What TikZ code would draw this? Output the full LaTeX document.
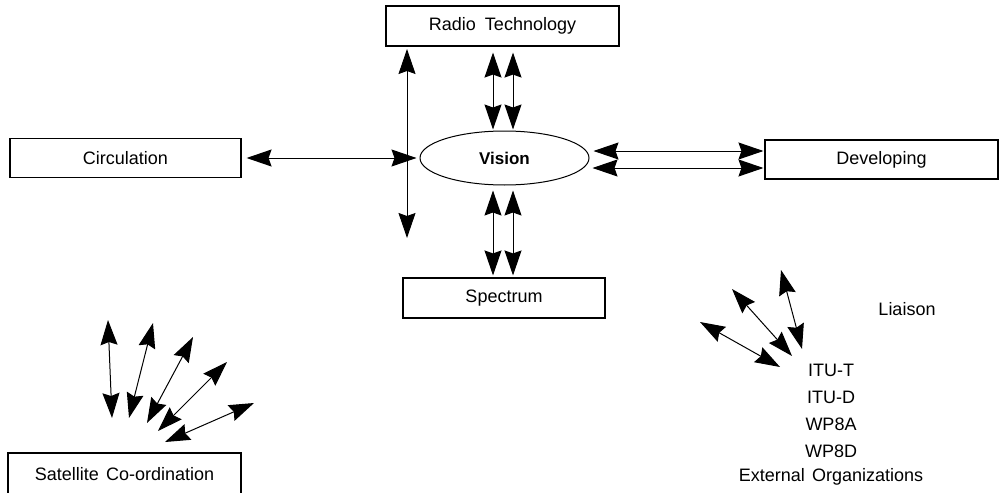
\documentclass[tikz,border=0pt]{standalone}
\usepackage{fontspec}
\setmainfont{Liberation Sans}
\usetikzlibrary{arrows.meta,shapes.geometric}
\tikzset{
  boxnode/.style={draw,line width=1.1pt,rectangle,inner sep=0pt,font=\fontsize{18}{20}\selectfont},
  labelnode/.style={inner sep=0pt,font=\fontsize{18}{20}\selectfont},
  tiphead/.tip={Stealth[length=25pt,width=17pt,inset=3pt]},
  dblarrow/.style={line width=1pt,tiphead-tiphead},
}
\begin{document}
\begin{tikzpicture}[x=1pt,y=-1pt]
\useasboundingbox (0,0) rectangle (1000,492);
% boxes
\node[boxnode,minimum width=233pt,minimum height=40pt] (radio) at (502.5,26) {Radio\hspace{0.5em}Technology};
\node[boxnode,minimum width=231pt,minimum height=39pt] (circ) at (125.5,158) {Circulation};
\node[boxnode,minimum width=233pt,minimum height=39pt] (dev) at (881.5,159.5) {Developing};
\node[boxnode,minimum width=202pt,minimum height=40pt] (spec) at (504,298) {Spectrum};
\node[boxnode,minimum width=233pt,minimum height=42pt] (sat) at (124.5,474) {Satellite\hspace{0.4em}Co-ordination};
\node[draw,line width=1pt,ellipse,minimum width=169pt,minimum height=54pt,inner sep=0pt,font=\fontsize{17}{18}\selectfont\bfseries] (vision) at (504.5,158) {Vision};
% vertical line left of vision
\coordinate (vt) at (407,49);
\coordinate (vb) at (407,238);
\draw[dblarrow] (vt) -- (vb);
% circulation
\draw[dblarrow] ([xshift=5pt]circ.east) -- ([xshift=-3pt]vision.west);
% radio <-> vision
\draw[dblarrow] ([xshift=-9.5pt,yshift=-6pt]radio.south) -- ([xshift=-11.5pt,yshift=1pt]vision.north);
\draw[dblarrow] ([xshift=10.5pt,yshift=-6pt]radio.south) -- ([xshift=8.5pt,yshift=1pt]vision.north);
% vision <-> spectrum
\draw[dblarrow] ([xshift=-11.5pt,yshift=-5pt]vision.south) -- ([xshift=-11pt,yshift=2pt]spec.north);
\draw[dblarrow] ([xshift=8.5pt,yshift=-5pt]vision.south) -- ([xshift=9pt,yshift=2pt]spec.north);
% vision <-> developing
\draw[dblarrow] ([xshift=4pt,yshift=7pt]vision.east) -- ([xshift=-1pt,yshift=8.5pt]dev.west);
\draw[dblarrow] ([xshift=3pt,yshift=-10pt]vision.east) -- ([xshift=-1pt,yshift=-8.5pt]dev.west);
% satellite fan
\coordinate (s1a) at (108,320); \coordinate (s1b) at (112,418);
\coordinate (s2a) at (153,323); \coordinate (s2b) at (129,418);
\coordinate (s3a) at (193,337); \coordinate (s3b) at (147,423);
\coordinate (s4a) at (227,362); \coordinate (s4b) at (158,431);
\coordinate (s5a) at (254,403); \coordinate (s5b) at (165,442);
\draw[dblarrow] (s1a) -- (s1b);
\draw[dblarrow] (s2a) -- (s2b);
\draw[dblarrow] (s3a) -- (s3b);
\draw[dblarrow] (s4a) -- (s4b);
\draw[dblarrow] (s5a) -- (s5b);
% liaison fan
\coordinate (l1a) at (700,322); \coordinate (l1b) at (780,367);
\coordinate (l2a) at (732,289); \coordinate (l2b) at (792,356);
\coordinate (l3a) at (781,270); \coordinate (l3b) at (802,349);
\draw[dblarrow] (l1a) -- (l1b);
\draw[dblarrow] (l2a) -- (l2b);
\draw[dblarrow] (l3a) -- (l3b);
% texts
\node[labelnode] (liaison) at (907,309) {Liaison};
\node[labelnode] (itut) at (831,370) {ITU-T};
\node[labelnode] (itud) at (831,397) {ITU-D};
\node[labelnode] (wpa) at (831,424) {WP8A};
\node[labelnode] (wpd) at (831,451) {WP8D};
\node[labelnode] (ext) at (831,477) {External\hspace{0.4em}Organizations};
\end{tikzpicture}
\end{document}
